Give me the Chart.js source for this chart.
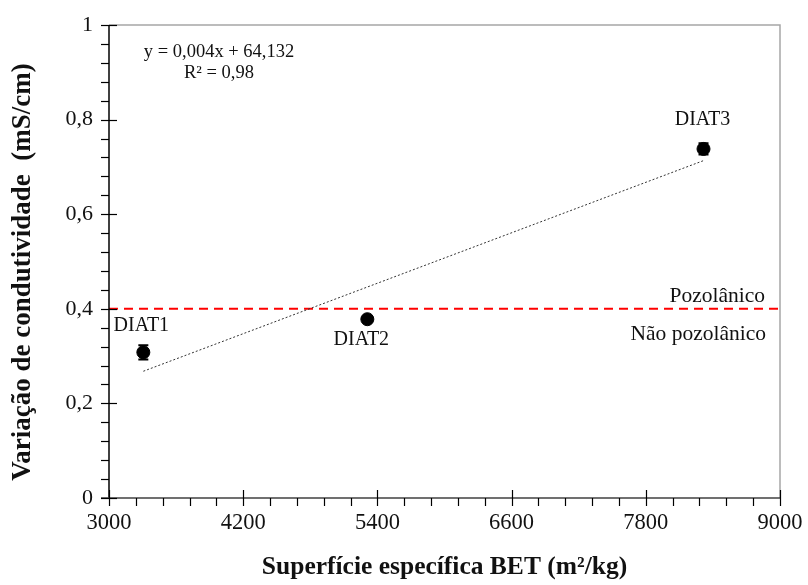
<!DOCTYPE html>
<html>
<head>
<meta charset="utf-8">
<script src="https://cdn.jsdelivr.net/npm/chart.js"></script>
<style>
  html, body { margin: 0; padding: 0; background: #ffffff; }
  #wrap { width: 808px; height: 585px; position: relative; }
</style>
</head>
<body>
<div id="wrap"><canvas id="c"></canvas></div>
<script>
// ---- Data ----
const sampleNames = ['DIAT1', 'DIAT2', 'DIAT3'];
const betSurface = [3307, 5310, 8316];          // m²/kg
const conductivityVar = [0.308, 0.378, 0.738];  // mS/cm
const conductivityErr = [0.015, 0.005, 0.012];
const trendX = [3307, 8313];
const trendY = [0.268, 0.713];
const pozzolanicLimit = 0.40;
const limitX = [3000, 9000];
const xTicks = [3000, 4200, 5400, 6600, 7800, 9000];
const yTicks = [0, 0.2, 0.4, 0.6, 0.8, 1];
const equationLines = ['y = 0,004x + 64,132', 'R² = 0,98'];
const zoneLabels = ['Pozolânico', 'Não pozolânico'];
const xTitle = 'Superfície específica BET (m²/kg)';
const yTitle = 'Variação de condutividade  (mS/cm)';

const SERIF = '"Liberation Serif", "Times New Roman", serif';

const fmtComma = v => {
  const r = Math.round(v * 10) / 10;
  return r.toString().replace('.', ',');
};

const customDraw = {
  id: 'customDraw',
  afterDatasetsDraw(chart) {
    const ctx = chart.ctx;
    const xs = chart.scales.x, ys = chart.scales.y;
    const ca = chart.chartArea;
    ctx.save();

    // error bars
    ctx.strokeStyle = '#000';
    ctx.lineWidth = 2;
    betSurface.forEach((bx, i) => {
      const px = xs.getPixelForValue(bx);
      const top = ys.getPixelForValue(conductivityVar[i] + conductivityErr[i]);
      const bot = ys.getPixelForValue(conductivityVar[i] - conductivityErr[i]);
      ctx.beginPath();
      ctx.moveTo(px, top); ctx.lineTo(px, bot);
      ctx.moveTo(px - 5, top); ctx.lineTo(px + 5, top);
      ctx.moveTo(px - 5, bot); ctx.lineTo(px + 5, bot);
      ctx.stroke();
    });

    // frame: top and right gray
    ctx.strokeStyle = '#a6a6a6';
    ctx.lineWidth = 1.5;
    ctx.beginPath();
    ctx.moveTo(ca.left, ca.top); ctx.lineTo(ca.right, ca.top); ctx.lineTo(ca.right, ca.bottom);
    ctx.stroke();

    // axes
    ctx.strokeStyle = '#000';
    ctx.lineWidth = 1.5;
    ctx.beginPath();
    ctx.moveTo(ca.left, ca.top); ctx.lineTo(ca.left, ca.bottom);
    ctx.stroke();
    ctx.strokeStyle = '#404040';
    ctx.beginPath();
    ctx.moveTo(ca.left - 8, ca.bottom); ctx.lineTo(ca.right, ca.bottom);
    ctx.stroke();

    // x ticks: major cross the axis, minor below
    ctx.lineWidth = 1.2;
    ctx.strokeStyle = '#000';
    for (let v = xs.min; v <= xs.max + 1e-6; v += 240) {
      const px = Math.round(xs.getPixelForValue(v)) + 0.5;
      const major = Math.abs(((v - xs.min) / 1200) - Math.round((v - xs.min) / 1200)) < 1e-6;
      ctx.beginPath();
      ctx.moveTo(px, ca.bottom + 8);
      ctx.lineTo(px, major ? ca.bottom - 8 : ca.bottom);
      ctx.stroke();
    }
    // y ticks: major cross, minor left
    for (let k = 0; k <= 25; k++) {
      const v = k * 0.04;
      const py = Math.round(ys.getPixelForValue(v)) + 0.5;
      const major = k % 5 === 0;
      ctx.beginPath();
      ctx.moveTo(ca.left - 8, py);
      ctx.lineTo(major ? ca.left + 8 : ca.left, py);
      ctx.stroke();
    }

    // point labels
    ctx.fillStyle = '#111';
    ctx.font = '20px ' + SERIF;
    ctx.textAlign = 'center';
    ctx.textBaseline = 'middle';
    const offs = [[-2, -27], [-6, 21], [-1, -29]];
    sampleNames.forEach((n, i) => {
      const px = xs.getPixelForValue(betSurface[i]);
      const py = ys.getPixelForValue(conductivityVar[i]);
      ctx.fillText(n, px + offs[i][0], py + offs[i][1]);
    });

    // zone labels
    const ly = ys.getPixelForValue(pozzolanicLimit);
    ctx.font = '21.5px ' + SERIF;
    ctx.textAlign = 'right';
    ctx.fillText(zoneLabels[0], ca.right - 15, ly - 12);
    ctx.fillText(zoneLabels[1], ca.right - 14, ly + 26);

    // equation
    ctx.font = '18.5px ' + SERIF;
    ctx.textAlign = 'center';
    ctx.fillText(equationLines[0], ca.left + 110, ca.top + 27);
    ctx.fillText(equationLines[1], ca.left + 110, ca.top + 48);

    // y axis title
    ctx.save();
    ctx.font = 'bold 27px ' + SERIF;
    ctx.translate(23, 272);
    ctx.rotate(-Math.PI / 2);
    ctx.textAlign = 'center';
    ctx.textBaseline = 'middle';
    ctx.fillText(yTitle, 0, 0);
    ctx.restore();

    ctx.restore();
  }
};

new Chart(document.getElementById('c'), {
  type: 'scatter',
  data: {
    datasets: [
      {
        label: 'Limite pozolânico',
        data: limitX.map(x => ({ x, y: pozzolanicLimit })),
        showLine: true,
        borderColor: '#ff0000',
        borderWidth: 2,
        borderDash: [9, 6],
        pointRadius: 0,
        order: 3
      },
      {
        label: 'Tendência',
        data: trendX.map((x, i) => ({ x, y: trendY[i] })),
        showLine: true,
        borderColor: '#333',
        borderWidth: 1,
        borderDash: [2, 2],
        pointRadius: 0,
        order: 2
      },
      {
        label: 'Amostras',
        data: betSurface.map((x, i) => ({ x, y: conductivityVar[i] })),
        backgroundColor: '#000',
        borderColor: '#000',
        pointRadius: 6.5,
        order: 1
      }
    ]
  },
  options: {
    responsive: true,
    maintainAspectRatio: false,
    animation: false,
    devicePixelRatio: 1,
    layout: { padding: { top: 25, right: 28, left: 0, bottom: 0 } },
    plugins: { legend: { display: false }, tooltip: { enabled: false } },
    scales: {
      x: {
        type: 'linear',
        min: 3000, max: 9000,
        afterFit: s => { s.height = 87; s.paddingLeft = 0; s.paddingRight = 0; },
        afterBuildTicks: s => { s.ticks = xTicks.map(v => ({ value: v })); },
        grid: { display: false, drawTicks: false },
        border: { display: false },
        ticks: {
          color: '#111',
          font: { family: SERIF, size: 22.5 },
          padding: 12,
          maxRotation: 0,
          autoSkip: false,
          callback: v => String(v)
        },
        title: {
          display: true,
          text: xTitle,
          color: '#111',
          font: { family: SERIF, size: 25.5, weight: 'bold' },
          padding: { top: 0, bottom: 2 }
        }
      },
      y: {
        type: 'linear',
        min: 0, max: 1,
        afterFit: s => { s.width = 109; s.paddingTop = 0; s.paddingBottom = 0; },
        afterBuildTicks: s => { s.ticks = yTicks.map(v => ({ value: v })); },
        grid: { display: false, drawTicks: false },
        border: { display: false },
        ticks: {
          color: '#111',
          font: { family: SERIF, size: 22 },
          padding: 16,
          autoSkip: false,
          callback: v => fmtComma(v)
        },
        title: { display: false }
      }
    }
  },
  plugins: [customDraw]
});
</script>
</body>
</html>
